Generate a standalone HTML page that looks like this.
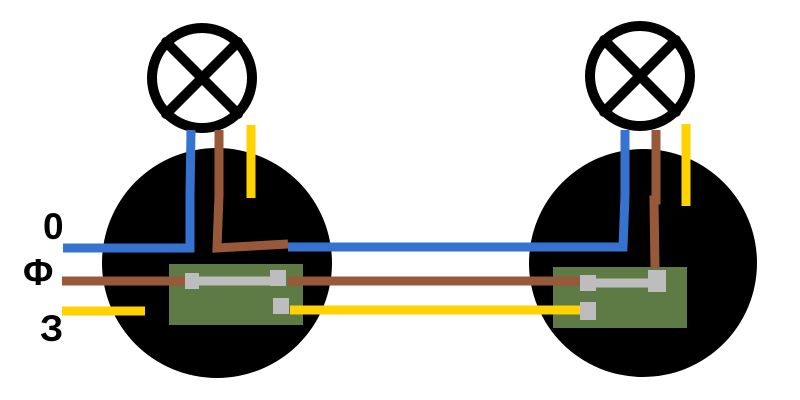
<!DOCTYPE html>
<html><head><style>html,body{margin:0;padding:0;background:#fff;width:800px;height:400px;overflow:hidden}</style></head>
<body>
<svg width="800" height="400" xmlns="http://www.w3.org/2000/svg">
<rect width="800" height="400" fill="#fff"/>
<circle cx="217" cy="263" r="115" fill="#000"/>
<circle cx="643" cy="263" r="114" fill="#000"/>
<g stroke="#000" stroke-width="10" fill="#fff">
<circle cx="202" cy="78" r="50"/>
<circle cx="640" cy="76" r="50"/>
</g>
<g stroke="#000" stroke-width="10" stroke-linecap="round">
<line x1="166" y1="42" x2="238" y2="114"/><line x1="238" y1="42" x2="166" y2="114"/>
<line x1="604" y1="40" x2="676" y2="112"/><line x1="676" y1="40" x2="604" y2="112"/>
</g>
<rect x="169" y="264" width="134" height="61" fill="#5e7a45"/>
<rect x="553" y="267" width="134" height="61" fill="#5e7a45"/>
<polyline points="63,248 190,248 190,195 191,130" fill="none" stroke="#3673d0" stroke-width="9"/>
<polyline points="288,247 580,247 580,247 623,247 625,195 625,130" fill="none" stroke="#3673d0" stroke-width="9"/>
<polyline points="219,130 219,195 217,248 288,244" fill="none" stroke="#98583a" stroke-width="9"/>
<polyline points="656,130 656,200 654,200 655,268" fill="none" stroke="#98583a" stroke-width="9"/>
<line x1="62" y1="281" x2="185" y2="281" stroke="#98583a" stroke-width="9"/>
<line x1="288" y1="281" x2="580" y2="281" stroke="#98583a" stroke-width="9"/>
<line x1="251" y1="125" x2="251" y2="198" stroke="#ffd200" stroke-width="9"/>
<line x1="686" y1="124" x2="686" y2="206" stroke="#ffd200" stroke-width="9"/>
<line x1="62" y1="311" x2="145" y2="311" stroke="#ffd200" stroke-width="9"/>
<line x1="290" y1="310" x2="582" y2="310" stroke="#ffd200" stroke-width="9"/>
<g fill="#bdbdbd">
<line x1="190" y1="281" x2="280" y2="281" stroke="#bdbdbd" stroke-width="9"/>
<rect x="185" y="273" width="14" height="16"/>
<rect x="270" y="270" width="16" height="16"/>
<rect x="273" y="298" width="16" height="16"/>
<line x1="590" y1="283" x2="660" y2="283" stroke="#bdbdbd" stroke-width="9"/>
<rect x="580" y="275" width="16" height="16"/>
<rect x="648" y="270" width="18" height="22"/>
<rect x="580" y="302" width="16" height="18"/>
</g>
<g font-family="Liberation Sans, DejaVu Sans, sans-serif" font-weight="bold" font-size="37" fill="#000">
<text x="43" y="239">0</text>
<text x="23" y="285">Φ</text>
<text x="40" y="341">З</text>
</g>
</svg>
</body></html>
